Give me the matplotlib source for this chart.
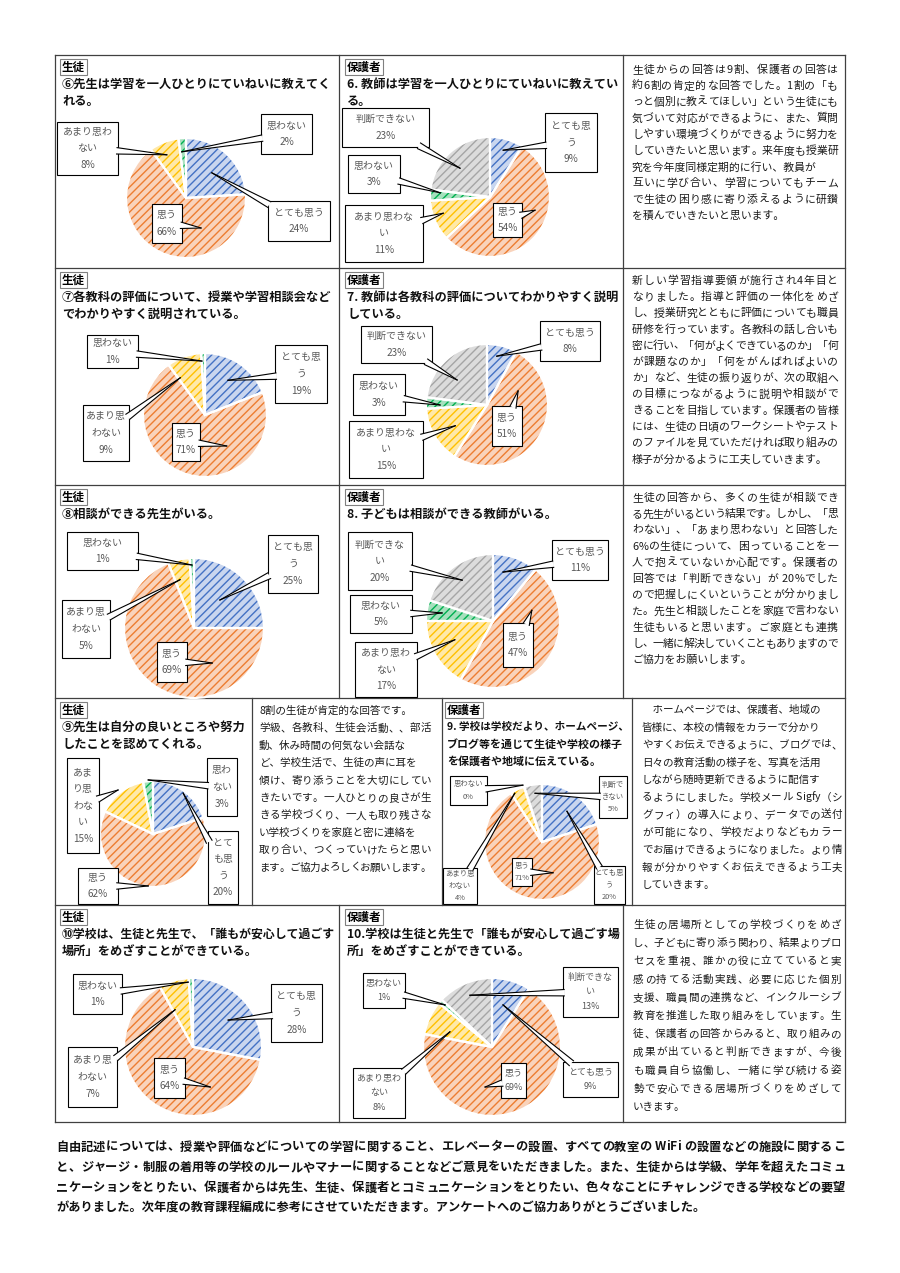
import matplotlib
matplotlib.use('Agg')
import matplotlib.pyplot as plt
from matplotlib.patches import Rectangle, Polygon
from matplotlib.font_manager import FontProperties, findfont
from matplotlib.ft2font import FT2Font
import numpy as np

plt.rcParams['font.family'] = ['Noto Sans CJK JP', 'DejaVu Sans']
plt.rcParams['hatch.linewidth'] = 1.0

# ---------------- data ----------------
cats_student = ['とても思う', '思う', 'あまり思わない', '思わない']
cats_parent = ['とても思う', '思う', 'あまり思わない', '思わない', '判断できない']

vals_s6 = [24, 66, 8, 2]
vals_p6 = [9, 54, 11, 3, 23]
vals_s7 = [19, 71, 9, 1]
vals_p7 = [8, 51, 15, 3, 23]
vals_s8 = [25, 69, 5, 1]
vals_p8 = [11, 47, 17, 5, 20]
vals_s9 = [20, 62, 15, 3]
vals_p9 = [20, 71, 4, 0, 5]
vals_s10 = [28, 64, 7, 1]
vals_p10 = [9, 69, 8, 1, 13]

title_s6 = ['⑥先生は学習を一人ひとりにていねいに教えてく', 'れる。']
title_p6 = ['6. 教師は学習を一人ひとりにていねいに教えてい', 'る。']
title_s7 = ['⑦各教科の評価について、授業や学習相談会など', 'でわかりやすく説明されている。']
title_p7 = ['7. 教師は各教科の評価についてわかりやすく説明', 'している。']
title_s8 = ['⑧相談ができる先生がいる。']
title_p8 = ['8. 子どもは相談ができる教師がいる。']
title_s9 = ['⑨先生は自分の良いところや努力', 'したことを認めてくれる。']
title_p9 = ['9. 学校は学校だより、ホームページ、', 'ブログ等を通じて生徒や学校の様子', 'を保護者や地域に伝えている。']
title_s10 = ['⑩学校は、生徒と先生で、「誰もが安心して過ごす', '場所」をめざすことができている。']
title_p10 = ['10.学校は生徒と先生で「誰もが安心して過ごす場', '所」をめざすことができている。']

text_6 = [
    '生徒からの回答は9割、保護者の回答は',
    '約6割の肯定的な回答でした。1割の「も',
    'っと個別に教えてほしい」という生徒にも',
    '気づいて対応ができるように、また、質問',
    'しやすい環境づくりができるように努力を',
    'していきたいと思います。来年度も授業研',
    '究を今年度同様定期的に行い、教員が',
    '互いに学び合い、学習についてもチーム',
    'で生徒の困り感に寄り添えるように研鑚',
    'を積んでいきたいと思います。',
]
text_7 = [
    '新しい学習指導要領が施行され4年目と',
    'なりました。指導と評価の一体化をめざ',
    'し、授業研究とともに評価についても職員',
    '研修を行っています。各教科の話し合いも',
    '密に行い、「何がよくできているのか」「何',
    'が課題なのか」「何をがんばればよいの',
    'か」など、生徒の振り返りが、次の取組へ',
    'の目標につながるように説明や相談がで',
    'きることを目指しています。保護者の皆様',
    'には、生徒の日頃のワークシートやテスト',
    'のファイルを見ていただければ取り組みの',
    '様子が分かるように工夫していきます。',
]
text_8 = [
    '生徒の回答から、多くの生徒が相談でき',
    'る先生がいるという結果です。しかし、「思',
    'わない」、「あまり思わない」と回答した',
    '6%の生徒について、困っていることを一',
    '人で抱えていないか心配です。保護者の',
    '回答では「判断できない」が 20%でした',
    'ので把握しにくいということが分かりまし',
    'た。先生と相談したことを家庭で言わない',
    '生徒もいると思います。ご家庭とも連携',
    'し、一緒に解決していくこともありますので',
    'ご協力をお願いします。',
]
text_9s = [
    '8割の生徒が肯定的な回答です。',
    '学級、各教科、生徒会活動、、部活',
    '動、休み時間の何気ない会話な',
    'ど、学校生活で、生徒の声に耳を',
    '傾け、寄り添うことを大切にしてい',
    'きたいです。一人ひとりの良さが生',
    'きる学校づくり、一人も取り残さな',
    'い学校づくりを家庭と密に連絡を',
    '取り合い、つくっていけたらと思い',
    'ます。ご協力よろしくお願いします。',
]
text_9p = [
    '　ホームページでは、保護者、地域の',
    '皆様に、本校の情報をカラーで分かり',
    'やすくお伝えできるように、ブログでは、',
    '日々の教育活動の様子を、写真を活用',
    'しながら随時更新できるように配信す',
    'るようにしました。学校メール Sigfy（シ',
    'グフィ）の導入により、データでの送付',
    'が可能になり、学校だよりなどもカラー',
    'でお届けできるようになりました。より情',
    '報が分かりやすくお伝えできるよう工夫',
    'していきます。',
]
text_10 = [
    '生徒の居場所としての学校づくりをめざ',
    'し、子どもに寄り添う関わり、結果よりプロ',
    'セスを重視、誰かの役に立てていると実',
    '感の持てる活動実践、必要に応じた個別',
    '支援、職員間の連携など、インクルーシブ',
    '教育を推進した取り組みをしています。生',
    '徒、保護者の回答からみると、取り組みの',
    '成果が出ていると判断できますが、今後',
    'も職員自ら協働し、一緒に学び続ける姿',
    '勢で安心できる居場所づくりをめざして',
    'いきます。',
]
footer = [
    '自由記述については、授業や評価などについての学習に関すること、エレベーターの設置、すべての教室の WiFi の設置などの施設に関するこ',
    'と、ジャージ・制服の着用等の学校のルールやマナーに関することなどご意見をいただきました。また、生徒からは学級、学年を超えたコミュ',
    'ニケーションをとりたい、保護者からは先生、生徒、保護者とコミュニケーションをとりたい、色々なことにチャレンジできる学校などの要望',
    'がありました。次年度の教育課程編成に参考にさせていただきます。アンケートへのご協力ありがとうございました。',
]

# ---------------- style ----------------
FACE = ['#c9d6ef', '#f9d3bb', '#ffe9a8', '#a6e0bd', '#dcdcdc']
HATCH = ['#4472C4', '#ED7D31', '#FFC000', '#00B050', '#A5A5A5']
LINE = '#404040'
CALL_TXT = '#595959'
DPI = 100

W, H = 900, 1273
fig = plt.figure(figsize=(9, 12.73), dpi=DPI)
fig.patch.set_facecolor('white')
bg = fig.add_axes([0, 0, 1, 1])
bg.set_xlim(0, W); bg.set_ylim(H, 0); bg.axis('off')

fit_list = []
_fonts = {}

def advances(s, fs, weight):
    prop = FontProperties(family=['Noto Sans CJK JP'], weight=weight)
    path = findfont(prop)
    if path not in _fonts:
        _fonts[path] = FT2Font(path, hinting_factor=1)
    f = _fonts[path]
    f.set_size(fs, DPI)
    out = []
    for c in s:
        try:
            g = f.load_char(ord(c))
            out.append(g.linearHoriAdvance / 65536.0)
        except Exception:
            out.append(fs * DPI / 72)
    return out

def put(ax, x, y, s, fs, maxw=None, **kw):
    t = ax.text(x, y, s, fontsize=fs, va='center', ha='left', **kw)
    if maxw is not None:
        fit_list.append((t, maxw))
    return t

# ---------------- table ----------------
rows = [55, 268, 485, 698, 905, 1122]
for y in rows:
    bg.plot([55, 845], [y, y], color=LINE, lw=0.9)
bg.plot([55, 55], [55, 1122], color=LINE, lw=0.9)
bg.plot([845, 845], [55, 1122], color=LINE, lw=0.9)
for (y0, y1) in [(55, 268), (268, 485), (485, 698), (905, 1122)]:
    for x in (339, 623):
        bg.plot([x, x], [y0, y1], color=LINE, lw=0.9)
for x in (252, 442, 632):
    bg.plot([x, x], [698, 905], color=LINE, lw=0.9)

def label(x, y, s):
    bg.text(x, y, s, fontsize=8.3, fontweight='bold', va='center', ha='left',
            bbox=dict(boxstyle='square,pad=0.14', fc='white', ec='#808080', lw=0.8))

def title(x, top, lines, fs, maxw, step=17.5):
    for i, s in enumerate(lines):
        put(bg, x, top + 29 + i * step, s, fs, maxw, fontweight='bold', color='#111111')

def para(x, y0, dy, lines, fs, target, weight='normal', thresh=0.9, color='#1a1a1a'):
    for i, s in enumerate(lines):
        y = y0 + i * dy
        adv = advances(s, fs, weight)
        nat = sum(adv)
        last = (i == len(lines) - 1)
        if (not last and nat >= thresh * target) or nat > target:
            gap = (target - nat) / max(len(s) - 1, 1)
            xc = x
            for c, a in zip(s, adv):
                if c not in ' 　':
                    bg.text(xc, y, c, fontsize=fs, fontweight=weight, color=color,
                            va='center', ha='left')
                xc += a + gap
        else:
            bg.text(x, y, s, fontsize=fs, fontweight=weight, color=color,
                    va='center', ha='left')

# labels and titles
for top in (55, 268, 485, 905):
    label(62, top + 12, '生徒')
    label(347, top + 12, '保護者')
label(62, 710, '生徒')
label(447, 710, '保護者')

title(62, 55, title_s6, 8.8, 274)
title(347, 55, title_p6, 8.8, 273)
title(62, 268, title_s7, 8.8, 274)
title(347, 268, title_p7, 8.8, 273)
title(62, 485, title_s8, 8.8, 274)
title(347, 485, title_p8, 8.8, 273)
title(62, 698, title_s9, 8.8, 187)
title(447, 698, title_p9, 7.9, 182)
title(62, 905, title_s10, 8.8, 274)
title(347, 905, title_p10, 8.8, 273)

para(632, 70, 16.2, text_6, 7.8, 206)
para(632, 281, 16.2, text_7, 7.8, 206)
para(632, 498, 16.2, text_8, 7.8, 206)
para(259, 711, 17.4, text_9s, 7.6, 172, thresh=0.93)
para(642, 710, 17.5, text_9p, 7.6, 200)
para(633, 925, 18.2, text_10, 7.6, 208)
para(56, 1147, 20.5, footer, 8.8, 789, weight='bold', color='#111111')

# ---------------- pies ----------------
def draw_pie(vals, cx, cy, r):
    m = 1.06
    ax = fig.add_axes([(cx - r * m) / W, 1 - (cy + r * m) / H, 2 * r * m / W, 2 * r * m / H])
    n = len(vals)
    wedges, _ = ax.pie(vals, startangle=90, counterclock=False, colors=FACE[:n], radius=1)
    for w, hc in zip(wedges, HATCH[:n]):
        w.set_hatch('////')
        w.set_edgecolor(hc)
        w.set_linewidth(0)
    ax.pie(vals, startangle=90, counterclock=False, colors=['none'] * n, radius=1,
           wedgeprops=dict(edgecolor='white', linewidth=1.6))
    ax.set_xlim(-m, m); ax.set_ylim(-m, m); ax.set_aspect('equal'); ax.axis('off')

def wrap(s, n):
    return [s[i:i + n] for i in range(0, len(s), n)]

charts = [
    dict(vals=vals_s6, cats=cats_student, c=(186, 198), r=60, fs=7.2, call=[
        ((268, 201, 330, 241), 5, (0.43, 0.42)),
        ((152, 204, 182, 243), 2, (0.25, -0.5)),
        ((57, 122, 118, 175), 5, (-0.32, 0.72)),
        ((261, 114, 312, 154), 4, (-0.07, 0.77))]),
    dict(vals=vals_p6, cats=cats_parent, c=(490, 197), r=60, fs=7.2, call=[
        ((545, 113, 597, 172), 4, (0.22, 0.78)),
        ((493, 203, 522, 237), 2, (0.75, -0.22)),
        ((345, 205, 423, 262), 6, (-0.78, -0.27)),
        ((348, 155, 400, 193), 4, (-0.83, 0.07)),
        ((342, 108, 429, 147), 6, (-0.5, 0.48))]),
    dict(vals=vals_s7, cats=cats_student, c=(205, 415), r=62, fs=7.2, call=[
        ((275, 345, 327, 403), 4, (0.37, 0.56)),
        ((172, 423, 200, 461), 2, (0.35, -0.5)),
        ((83, 405, 129, 461), 4, (-0.4, 0.6)),
        ((87, 335, 138, 368), 4, (-0.05, 0.87))]),
    dict(vals=vals_p7, cats=cats_parent, c=(487, 405), r=61, fs=7.2, call=[
        ((540, 321, 600, 361), 5, (0.16, 0.8)),
        ((492, 406, 522, 446), 2, (0.51, 0.23)),
        ((349, 421, 423, 478), 6, (-0.52, -0.34)),
        ((353, 374, 405, 415), 4, (-0.77, 0.0)),
        ((361, 326, 432, 363), 6, (-0.49, 0.41))]),
    dict(vals=vals_s8, cats=cats_student, c=(194, 628), r=70, fs=7.2, call=[
        ((268, 535, 318, 593), 4, (0.37, 0.4)),
        ((157, 642, 187, 682), 2, (0.26, -0.5)),
        ((62, 600, 110, 658), 4, (-0.2, 0.69)),
        ((67, 532, 138, 570), 4, (-0.03, 0.9))]),
    dict(vals=vals_p8, cats=cats_parent, c=(493, 621), r=67, fs=7.2, call=[
        ((552, 540, 608, 580), 5, (0.15, 0.73)),
        ((503, 623, 533, 667), 2, (0.58, 0.16)),
        ((355, 642, 417, 697), 5, (-0.57, -0.28)),
        ((350, 595, 412, 633), 4, (-0.76, 0.12)),
        ((348, 532, 412, 590), 5, (-0.46, 0.61))]),
    dict(vals=vals_s9, cats=cats_student, c=(153, 834), r=53, fs=7.2, call=[
        ((208, 831, 238, 904), 2, (0.57, 0.77)),
        ((78, 868, 118, 904), 2, (-0.09, -0.98)),
        ((67, 758, 99, 853), 2, (-0.66, 0.83)),
        ((207, 758, 237, 816), 2, (-0.09, 1.02))]),
    dict(vals=vals_p9, cats=cats_parent, c=(542, 842), r=58, fs=5.3, call=[
        ((594, 866, 625, 904), 4, (0.43, 0.53)),
        ((512, 858, 532, 886), 2, (0.19, -0.53)),
        ((443, 868, 477, 904), 4, (-0.47, 0.84)),
        ((450, 776, 487, 805), 4, (-0.33, 0.98)),
        ((599, 776, 627, 818), 3, (-0.12, 0.84))]),
    dict(vals=vals_s10, cats=cats_student, c=(193, 1047), r=69, fs=7.2, call=[
        ((271, 984, 322, 1042), 4, (0.51, 0.39)),
        ((154, 1058, 185, 1098), 2, (0.25, -0.58)),
        ((68, 1047, 117, 1107), 4, (-0.26, 0.54)),
        ((73, 974, 122, 1014), 4, (-0.07, 0.94))]),
    dict(vals=vals_p10, cats=cats_parent, c=(492, 1047), r=69, fs=6.5, call=[
        ((563, 1062, 618, 1097), 5, (0.16, 0.61)),
        ((501, 1063, 526, 1098), 2, (-0.1, -0.58)),
        ((353, 1068, 405, 1118), 5, (-0.61, 0.22)),
        ((363, 973, 405, 1008), 4, (-0.68, 0.61)),
        ((563, 967, 618, 1017), 5, (-0.32, 0.75))]),
]

for ch in charts:
    draw_pie(ch['vals'], ch['c'][0], ch['c'][1], ch['r'])

# ---------------- callouts ----------------
ov = fig.add_axes([0, 0, 1, 1])
ov.set_xlim(0, W); ov.set_ylim(H, 0); ov.axis('off')

def callout(box, target, lines, fs):
    x0, y0, x1, y1 = box
    bx, by = (x0 + x1) / 2, (y0 + y1) / 2
    tx, ty = target
    ov.add_patch(Rectangle((x0, y0), x1 - x0, y1 - y0, fc='white', ec='black', lw=0.8, zorder=2))
    d = np.array([tx - bx, ty - by])
    hw, hh = (x1 - x0) / 2 - 1.2, (y1 - y0) / 2 - 1.2
    tt = min(hw / abs(d[0]) if d[0] != 0 else 1e9, hh / abs(d[1]) if d[1] != 0 else 1e9)
    e = np.array([bx, by]) + d * tt
    L = np.hypot(*d)
    nrm = np.array([-d[1], d[0]]) / L
    half = 3.2
    p1, p2 = e + nrm * half, e - nrm * half
    ov.add_patch(Polygon([p1, p2, (tx, ty)], closed=True, fc='white', ec='none', zorder=3))
    ov.plot([p1[0], tx], [p1[1], ty], color='black', lw=0.8, zorder=4)
    ov.plot([p2[0], tx], [p2[1], ty], color='black', lw=0.8, zorder=4)
    sp = fs * 1.389 * 1.65
    n = len(lines)
    for i, s in enumerate(lines):
        ov.text(bx, by + (i - (n - 1) / 2) * sp, s, fontsize=fs, color=CALL_TXT,
                ha='center', va='center', zorder=5)

for ch in charts:
    cx, cy = ch['c']; r = ch['r']
    for cat, v, (box, wn, (ox, oy)) in zip(ch['cats'], ch['vals'], ch['call']):
        lines = wrap(cat, wn) + [f'{v}%']
        callout(box, (cx + ox * r, cy - oy * r), lines, ch['fs'])

# ---------------- fit text widths ----------------
renderer = fig.canvas.get_renderer()
for t, maxw in fit_list:
    bb = t.get_window_extent(renderer)
    if bb.width > maxw:
        t.set_fontsize(t.get_fontsize() * maxw / bb.width)

fig.savefig('out.png', dpi=DPI, facecolor='white')
